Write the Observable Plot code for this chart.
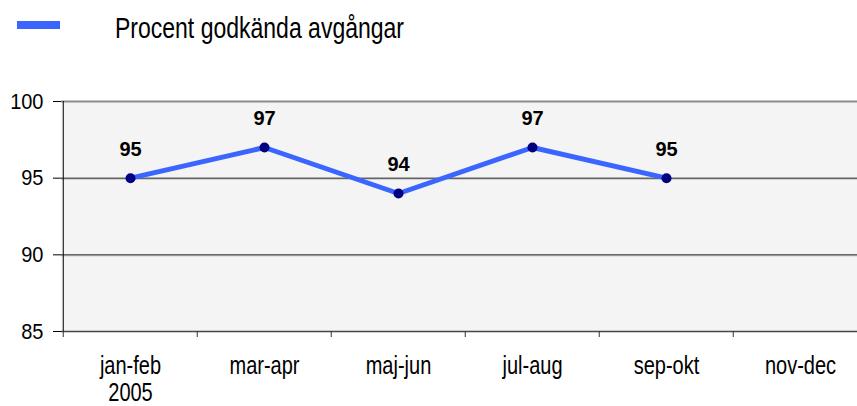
<!DOCTYPE html>
<html><head><meta charset="utf-8">
<script src="https://cdn.jsdelivr.net/npm/d3@7"></script>
<script src="https://cdn.jsdelivr.net/npm/@observablehq/plot@0.6"></script>
<style>
html,body{margin:0;padding:0;background:#fff;overflow:hidden}
body{font-family:"Liberation Sans",Arial,sans-serif;width:857px;height:406px}
#legend{position:relative;height:60px;width:857px}
#legend .sw{position:absolute;left:17px;top:21px;width:43px;height:8px;background:#3a66ff}
#legend .lt{position:absolute;left:115px;top:19px;font-size:23px;line-height:23px;color:#000;white-space:nowrap;transform:scaleY(1.28);transform-origin:0 19.5px}
#chart svg{display:block}
</style></head><body>
<div id="legend"><span class="sw"></span><span class="lt"></span></div>
<div id="chart"></div>
<script>
const categories = ["jan-feb","mar-apr","maj-jun","jul-aug","sep-okt","nov-dec"];
const xTickLabels = ["jan-feb\n2005","mar-apr","maj-jun","jul-aug","sep-okt","nov-dec"];
const seriesName = "Procent godkända avgångar";
const values = [95, 97, 94, 97, 95, null];
const yTicks = [85, 90, 95, 100];
const gridValues = [90, 95];

document.querySelector("#legend .lt").textContent = seriesName;

const pts = categories.map((c, i) => ({c, v: values[i]})).filter(d => d.v != null);
const xLab = categories.map((c, i) => ({c, label: xTickLabels[i]}));

const left = 61, right = 868;
const halfStep = (right - left) / categories.length / 2;
const blue = "#3a66ff";

const chart = Plot.plot({
  width: 857,
  height: 346,
  marginLeft: 61,
  marginRight: 0,
  marginTop: 41,
  marginBottom: 75,
  style: {fontFamily: "'Liberation Sans', Arial, sans-serif", background: "transparent", overflow: "visible"},
  x: {type: "point", domain: categories, range: [left, right], padding: 0.5, axis: null},
  y: {domain: [85, 100], axis: null},
  marks: [
    Plot.frame({fill: "#f4f4f4", stroke: null}),
    Plot.ruleY(gridValues, {stroke: "#c0c0c0", dy: 1}),
    Plot.ruleY(gridValues, {stroke: "#222"}),
    Plot.ruleY([100], {stroke: "#8c8c8c", strokeWidth: 2}),
    Plot.ruleY([85], {stroke: "#444", strokeWidth: 1.5}),
    Plot.ruleX([categories[0]], {dx: -halfStep, stroke: "#000", strokeWidth: 1}),
    Plot.axisX({ticks: categories, tickSize: 6, tickFormat: () => "", label: null, dx: -halfStep, stroke: "#333"}),
    Plot.axisY({ticks: yTicks, tickSize: 8, tickPadding: 10, fontSize: 20, label: null, stroke: "#000", fill: "#000", tickFormat: d => String(d), className: "ytk"}),
    Plot.text(xLab, {x: "c", text: "label", frameAnchor: "bottom", lineAnchor: "top", dy: 24, fontSize: 20, lineHeight: 1.04, fill: "#000", className: "xlab"}),
    Plot.line(pts, {x: "c", y: "v", stroke: blue, strokeWidth: 5}),
    Plot.dot(pts, {x: "c", y: "v", r: 5, fill: "#000080", stroke: null}),
    Plot.text(pts, {x: "c", y: "v", text: d => String(d.v), dy: -29, fontSize: 20, fontWeight: "bold", fill: "#000"})
  ]
});
document.getElementById("chart").appendChild(chart);

// vertical stretch of glyphs, as in the reference rendering
function stretch(sel, s) {
  chart.querySelectorAll(sel).forEach(t => {
    const T = t.getAttribute("transform") || "";
    const Y = parseFloat(t.getAttribute("y") || "0") || 0;
    t.setAttribute("transform", `${T} translate(0,${Y}) scale(1,${s}) translate(0,${-Y})`);
  });
}
stretch("g.xlab text", 1.28);
stretch("g.ytk text", 1.13);
</script>
</body></html>
